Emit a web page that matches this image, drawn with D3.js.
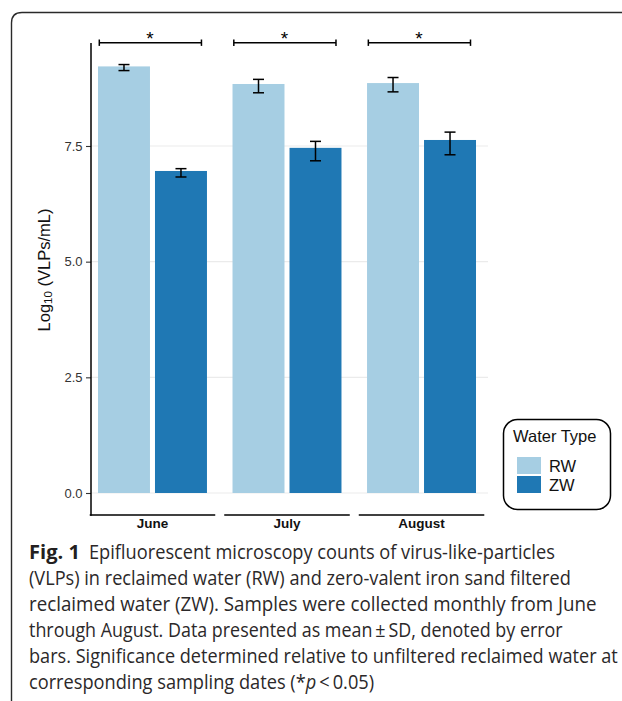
<!DOCTYPE html>
<html>
<head>
<meta charset="utf-8">
<script src="https://cdn.jsdelivr.net/npm/d3@7"></script>
<style>
  html, body { margin: 0; padding: 0; background: #fff; }
  svg { display: block; }
</style>
</head>
<body>
<svg id="chart" width="622" height="701"></svg>
<script>
// ---------- data ----------
const months = ["June", "July", "August"];
const waterTypes = ["RW", "ZW"];
const rwMean = [9.22, 8.84, 8.86];
const zwMean = [6.96, 7.46, 7.63];
const rwLow  = [9.13, 8.65, 8.67];
const rwHigh = [9.26, 8.94, 8.98];
const zwLow  = [6.83, 7.18, 7.31];
const zwHigh = [7.01, 7.60, 7.80];
const sigLabels = ["*", "*", "*"];
const yTicks = [0, 2.5, 5, 7.5];
const yTitleMain = "Log";
const yTitleSub = "10";
const yTitleRest = " (VLPs/mL)";
const legendTitle = "Water Type";
const captionBold = "Fig. 1";
const captionLines = [
  "Epifluorescent microscopy counts of virus-like-particles",
  "(VLPs) in reclaimed water (RW) and zero-valent iron sand filtered",
  "reclaimed water (ZW). Samples were collected monthly from June",
  "through August. Data presented as mean\u2009\u00B1\u2009SD, denoted by error",
  "bars. Significance determined relative to unfiltered reclaimed water at",
  "corresponding sampling dates (*"
];
const captionTail = ["p", "\u2009<\u20090.05)"];

// ---------- build ----------
const colors = { RW: "#a6cee3", ZW: "#1f78b4" };
const data = months.map((m, i) => ({
  month: m,
  values: [
    { type: "RW", mean: rwMean[i], lo: rwLow[i], hi: rwHigh[i] },
    { type: "ZW", mean: zwMean[i], lo: zwLow[i], hi: zwHigh[i] }
  ],
  sig: sigLabels[i]
}));

const svg = d3.select("#chart");

// outer frame
svg.append("path")
  .attr("d", "M11.5,701 V23 Q11.5,12.5 22,12.5 H622")
  .attr("fill", "none").attr("stroke", "#2a2a2a").attr("stroke-width", 1.4);

const plotLeft = 91, plotRight = 488;
const y = d3.scaleLinear().domain([-0.4755, 9.726]).range([515, 43]);
const x = d3.scaleBand().domain(months).range([88.5, 485.5])
  .paddingInner(0.19).paddingOuter(0.0706);
const xs = d3.scaleBand().domain(waterTypes).range([0, x.bandwidth()]).paddingInner(0.088);

// grid
svg.append("g").selectAll("line").data(yTicks).join("line")
  .attr("x1", plotLeft).attr("x2", plotRight)
  .attr("y1", d => y(d)).attr("y2", d => y(d))
  .attr("stroke", "#ebebeb").attr("stroke-width", 1.1);

// bars
const groups = svg.append("g").selectAll("g").data(data).join("g")
  .attr("transform", d => `translate(${x(d.month)},0)`);
groups.selectAll("rect").data(d => d.values).join("rect")
  .attr("x", d => xs(d.type)).attr("width", xs.bandwidth())
  .attr("y", d => y(d.mean)).attr("height", d => y(0) - y(d.mean))
  .attr("fill", d => colors[d.type]);

// error bars
const eb = groups.selectAll("g.eb").data(d => d.values).join("g").attr("class", "eb")
  .attr("stroke", "#000").attr("stroke-width", 1.5);
const cx = d => xs(d.type) + xs.bandwidth() / 2;
eb.append("line").attr("x1", cx).attr("x2", cx).attr("y1", d => y(d.lo)).attr("y2", d => y(d.hi));
eb.append("line").attr("x1", d => cx(d) - 5.5).attr("x2", d => cx(d) + 5.5).attr("y1", d => y(d.lo)).attr("y2", d => y(d.lo));
eb.append("line").attr("x1", d => cx(d) - 5.5).attr("x2", d => cx(d) + 5.5).attr("y1", d => y(d.hi)).attr("y2", d => y(d.hi));

// significance brackets
const brY = y.range()[1] - 0.3;
const br = groups.append("g").attr("stroke", "#000").attr("stroke-width", 1.5);
br.append("line").attr("x1", 1.3).attr("x2", x.bandwidth() - 5.5).attr("y1", brY).attr("y2", brY);
br.append("line").attr("x1", 1.3).attr("x2", 1.3).attr("y1", brY - 3.2).attr("y2", brY + 3.2);
br.append("line").attr("x1", x.bandwidth() - 5.5).attr("x2", x.bandwidth() - 5.5).attr("y1", brY - 3.2).attr("y2", brY + 3.2);
groups.append("text")
  .attr("x", x.bandwidth() / 2 - 2.5).attr("y", brY + 2)
  .attr("text-anchor", "middle")
  .attr("font-family", "Liberation Sans, Arial, sans-serif").attr("font-size", 19)
  .attr("fill", "#000").text(d => d.sig);

// y axis
const yAxis = d3.axisLeft(y).tickValues(yTicks).tickFormat(d3.format(".1f")).tickSize(5).tickPadding(3.5);
const ya = svg.append("g").attr("transform", `translate(${plotLeft},0)`).call(yAxis);
ya.select(".domain").remove();
ya.selectAll(".tick line").attr("stroke", "#333").attr("stroke-width", 1.1);
ya.selectAll(".tick text").attr("font-family", "Liberation Sans, Arial, sans-serif")
  .attr("font-size", 13).attr("fill", "#333");
svg.append("line").attr("x1", plotLeft).attr("x2", plotLeft)
  .attr("y1", y.range()[1]).attr("y2", y.range()[0] + 0.7)
  .attr("stroke", "#000").attr("stroke-width", 1.5);

// x axis segments and labels
const half = (x.step() - 9) / 2;
svg.append("g").selectAll("line").data(months).join("line")
  .attr("x1", d => x(d) + x.bandwidth() / 2 - half)
  .attr("x2", d => x(d) + x.bandwidth() / 2 + half)
  .attr("y1", y.range()[0]).attr("y2", y.range()[0])
  .attr("stroke", "#000").attr("stroke-width", 1.5);
svg.append("g").selectAll("text").data(months).join("text")
  .attr("x", d => x(d) + x.bandwidth() / 2)
  .attr("y", 528)
  .attr("text-anchor", "middle")
  .attr("font-family", "Liberation Sans, Arial, sans-serif")
  .attr("font-size", 13.5).attr("font-weight", "bold").attr("fill", "#111")
  .text(d => d);

// y title
const yt = svg.append("text")
  .attr("transform", "translate(50,270) rotate(-90)")
  .attr("text-anchor", "middle")
  .attr("font-family", "Liberation Sans, Arial, sans-serif")
  .attr("font-size", 16.5).attr("fill", "#111");
yt.append("tspan").text(yTitleMain);
yt.append("tspan").attr("font-size", 11.5).attr("dy", 1.5).text(yTitleSub);
yt.append("tspan").attr("dy", -1.5).text(yTitleRest);

// legend
const lg = svg.append("g");
lg.append("rect").attr("x", 503.5).attr("y", 419.5).attr("width", 107).attr("height", 90)
  .attr("rx", 14).attr("ry", 14)
  .attr("fill", "#fff").attr("stroke", "#000").attr("stroke-width", 1.5);
lg.append("text").attr("x", 513).attr("y", 442)
  .attr("font-family", "Liberation Sans, Arial, sans-serif").attr("font-size", 16.5).attr("fill", "#111")
  .text(legendTitle);
const li = lg.selectAll("g.li").data(waterTypes).join("g").attr("class", "li")
  .attr("transform", (d, i) => `translate(517,${457 + i * 19})`);
li.append("rect").attr("width", 24).attr("height", 17).attr("fill", d => colors[d]);
li.append("text").attr("x", 32).attr("y", 14.5)
  .attr("font-family", "Liberation Sans, Arial, sans-serif").attr("font-size", 16.5).attr("fill", "#111")
  .text(d => d);

// caption (horizontally scaled to match reference line widths)
const capFont = "Open Sans, Noto Sans, sans-serif";
const capX = 29, capBase = 559, capStep = 26;
const capWidths = [466, 542, 568, 534, 589, 345];
function fitText(sel, targetW, x0, y0) {
  const w = sel.node().getComputedTextLength();
  const s = targetW / w;
  sel.attr("x", 0).attr("y", 0)
     .attr("transform", `translate(${x0},${y0}) scale(${s},1)`);
}
const fb = svg.append("text")
  .attr("font-family", capFont).attr("font-size", 20).attr("font-weight", "bold")
  .attr("fill", "#231f20").text(captionBold);
fitText(fb, 51, capX, capBase);
captionLines.forEach((t, i) => {
  const tx = svg.append("text")
    .attr("font-family", capFont).attr("font-size", 20).attr("fill", "#2b2829");
  if (i < captionLines.length - 1) {
    tx.text(t);
  } else {
    tx.append("tspan").text(t);
    tx.append("tspan").attr("font-style", "italic").text(captionTail[0]);
    tx.append("tspan").text(captionTail[1]);
  }
  fitText(tx, capWidths[i], i === 0 ? 89 : capX, capBase + i * capStep);
});
</script>
</body>
</html>
